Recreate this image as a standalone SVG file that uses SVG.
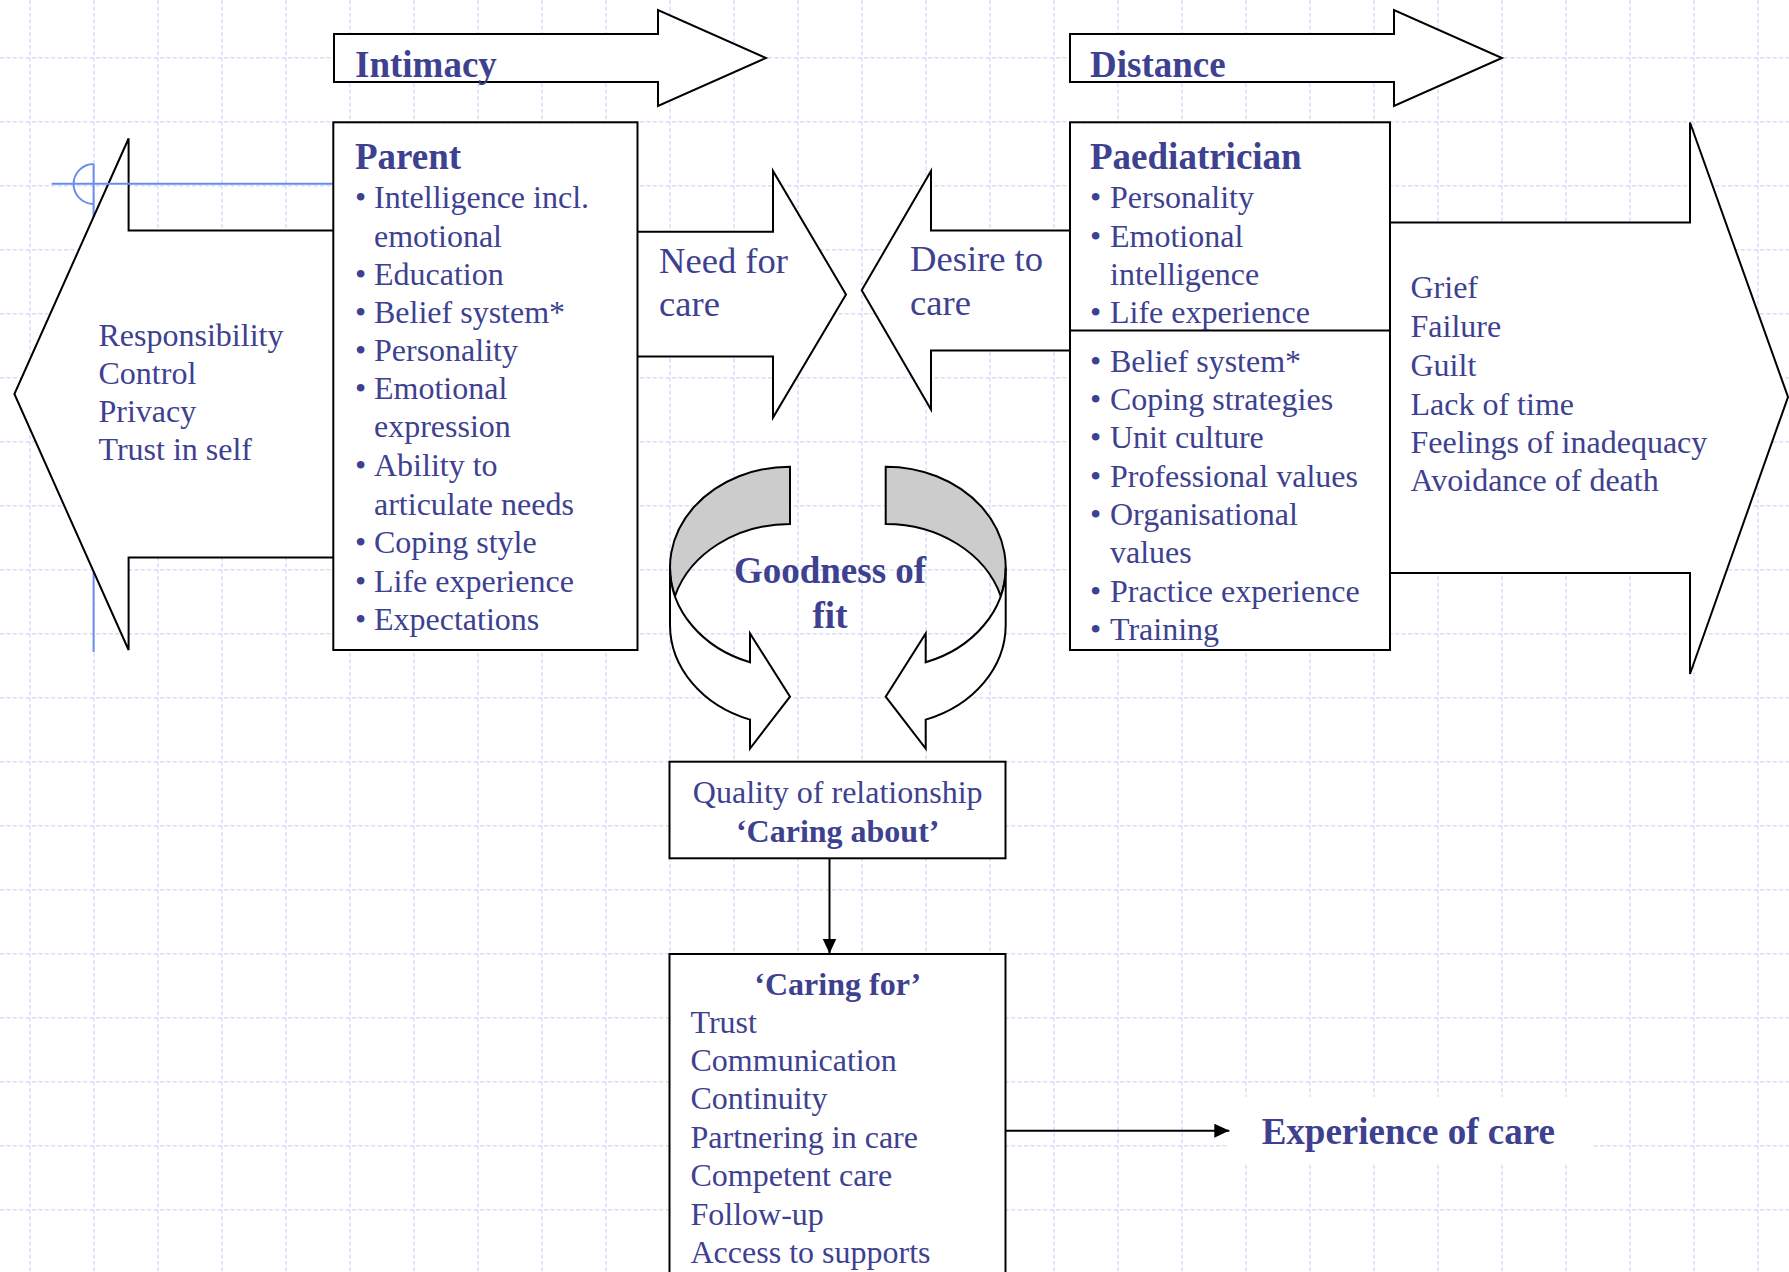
<svg xmlns="http://www.w3.org/2000/svg" width="1789" height="1272" viewBox="0 0 1789 1272">
<defs>
<style>
.grid line{stroke:#d5ddf9;stroke-width:1.5;stroke-dasharray:4 2.4}
.shape{fill:#ffffff;stroke:#000000;stroke-width:2;stroke-linejoin:miter}
.back{fill:#cccccc;stroke:#000000;stroke-width:2}
.t{font-family:"Liberation Serif","Times New Roman",serif;font-size:32px;fill:#3d418f}
.h{font-family:"Liberation Serif","Times New Roman",serif;font-size:37px;font-weight:bold;fill:#3d418f}
.b{font-family:"Liberation Serif","Times New Roman",serif;font-size:32px;font-weight:bold;fill:#3d418f}
.m{font-family:"Liberation Serif","Times New Roman",serif;font-size:36.6px;fill:#3d418f}
.blue{stroke:#6a8cf0;stroke-width:2;fill:none}
.conn{stroke:#000000;stroke-width:2;fill:none}
</style>
<marker id="ah" markerUnits="userSpaceOnUse" markerWidth="15" markerHeight="14" refX="15" refY="7" orient="auto">
<path d="M0,0 L15,7 L0,14 Z" fill="#000000"/>
</marker>
</defs>
<rect width="1789" height="1272" fill="#ffffff"/>
<g class="grid">
<line x1="30" y1="0" x2="30" y2="1272"/><line x1="94" y1="0" x2="94" y2="1272"/><line x1="158" y1="0" x2="158" y2="1272"/><line x1="222" y1="0" x2="222" y2="1272"/><line x1="286" y1="0" x2="286" y2="1272"/><line x1="350" y1="0" x2="350" y2="1272"/><line x1="414" y1="0" x2="414" y2="1272"/><line x1="478" y1="0" x2="478" y2="1272"/><line x1="542" y1="0" x2="542" y2="1272"/><line x1="606" y1="0" x2="606" y2="1272"/><line x1="670" y1="0" x2="670" y2="1272"/><line x1="734" y1="0" x2="734" y2="1272"/><line x1="798" y1="0" x2="798" y2="1272"/><line x1="862" y1="0" x2="862" y2="1272"/><line x1="926" y1="0" x2="926" y2="1272"/><line x1="990" y1="0" x2="990" y2="1272"/><line x1="1054" y1="0" x2="1054" y2="1272"/><line x1="1118" y1="0" x2="1118" y2="1272"/><line x1="1182" y1="0" x2="1182" y2="1272"/><line x1="1246" y1="0" x2="1246" y2="1272"/><line x1="1310" y1="0" x2="1310" y2="1272"/><line x1="1374" y1="0" x2="1374" y2="1272"/><line x1="1438" y1="0" x2="1438" y2="1272"/><line x1="1502" y1="0" x2="1502" y2="1272"/><line x1="1566" y1="0" x2="1566" y2="1272"/><line x1="1630" y1="0" x2="1630" y2="1272"/><line x1="1694" y1="0" x2="1694" y2="1272"/><line x1="1758" y1="0" x2="1758" y2="1272"/>
<line x1="0" y1="57.7" x2="1789" y2="57.7"/><line x1="0" y1="121.7" x2="1789" y2="121.7"/><line x1="0" y1="185.7" x2="1789" y2="185.7"/><line x1="0" y1="249.7" x2="1789" y2="249.7"/><line x1="0" y1="313.7" x2="1789" y2="313.7"/><line x1="0" y1="377.7" x2="1789" y2="377.7"/><line x1="0" y1="441.7" x2="1789" y2="441.7"/><line x1="0" y1="505.7" x2="1789" y2="505.7"/><line x1="0" y1="569.7" x2="1789" y2="569.7"/><line x1="0" y1="633.7" x2="1789" y2="633.7"/><line x1="0" y1="697.7" x2="1789" y2="697.7"/><line x1="0" y1="761.7" x2="1789" y2="761.7"/><line x1="0" y1="825.7" x2="1789" y2="825.7"/><line x1="0" y1="889.7" x2="1789" y2="889.7"/><line x1="0" y1="953.7" x2="1789" y2="953.7"/><line x1="0" y1="1017.7" x2="1789" y2="1017.7"/><line x1="0" y1="1081.7" x2="1789" y2="1081.7"/><line x1="0" y1="1145.7" x2="1789" y2="1145.7"/><line x1="0" y1="1209.7" x2="1789" y2="1209.7"/>
</g>
<g id="crosshair-back">
<line class="blue" x1="93.6" y1="164" x2="93.6" y2="652"/>
<path class="blue" d="M93.6,164 A20,20 0 0 0 93.6,204"/>
</g>
<g id="node-left-arrow">
<polygon class="shape" points="345,230.5 128.6,230.5 128.6,138.5 14.4,394 128.6,650 128.6,557.5 345,557.5"/>
<text class="t" x="98.5" y="346">Responsibility</text>
<text class="t" x="98.5" y="384">Control</text>
<text class="t" x="98.5" y="422">Privacy</text>
<text class="t" x="98.5" y="460">Trust in self</text>
</g>
<g id="crosshair-front">
<line class="blue" x1="51.7" y1="183.7" x2="333.3" y2="183.7"/>
</g>
<g id="node-right-arrow">
<polygon class="shape" points="1380,222.4 1690,222.4 1690,122.5 1788,397 1690,674 1690,573 1380,573"/>
<text class="t" x="1410.5" y="298">Grief</text>
<text class="t" x="1410.5" y="337">Failure</text>
<text class="t" x="1410.5" y="376">Guilt</text>
<text class="t" x="1410.5" y="414.5">Lack of time</text>
<text class="t" x="1410.5" y="452.5">Feelings of inadequacy</text>
<text class="t" x="1410.5" y="490.5">Avoidance of death</text>
</g>
<g id="node-need">
<polygon class="shape" points="628,231.7 773,231.7 773,171 846,294.5 773,417.5 773,356.5 628,356.5"/>
<text class="m" x="659" y="273.3">Need for</text>
<text class="m" x="659" y="315.7">care</text>
</g>
<g id="node-desire">
<polygon class="shape" points="1080,230.5 931,230.5 931,171 861.7,290.2 931,409.6 931,350.6 1080,350.6"/>
<text class="m" x="910" y="271">Desire to</text>
<text class="m" x="910" y="315">care</text>
</g>
<g id="node-intimacy">
<polygon class="shape" points="334,34 658,34 658,10 766,58 658,106 658,82 334,82"/>
<text class="h" x="355" y="77">Intimacy</text>
</g>
<g id="node-distance">
<polygon class="shape" points="1070,34 1394,34 1394,10 1502,58 1394,106 1394,82 1070,82"/>
<text class="h" x="1090" y="77">Distance</text>
</g>
<g id="node-parent">
<rect class="shape" x="333.3" y="122.3" width="304.2" height="527.7"/>
<text class="h" x="355" y="169">Parent</text>
<text class="t" x="355" y="207.7">•</text><text class="t" x="374" y="207.7">Intelligence incl.</text>
<text class="t" x="374" y="246.5">emotional</text>
<text class="t" x="355" y="284.5">•</text><text class="t" x="374" y="284.5">Education</text>
<text class="t" x="355" y="322.5">•</text><text class="t" x="374" y="322.5">Belief system*</text>
<text class="t" x="355" y="361">•</text><text class="t" x="374" y="361">Personality</text>
<text class="t" x="355" y="399">•</text><text class="t" x="374" y="399">Emotional</text>
<text class="t" x="374" y="437">expression</text>
<text class="t" x="355" y="476">•</text><text class="t" x="374" y="476">Ability to</text>
<text class="t" x="374" y="514.5">articulate needs</text>
<text class="t" x="355" y="552.5">•</text><text class="t" x="374" y="552.5">Coping style</text>
<text class="t" x="355" y="592">•</text><text class="t" x="374" y="592">Life experience</text>
<text class="t" x="355" y="630">•</text><text class="t" x="374" y="630">Expectations</text>
</g>
<g id="node-paediatrician">
<rect class="shape" x="1070" y="122.3" width="320" height="527.7"/>
<line class="conn" x1="1070" y1="330.5" x2="1390" y2="330.5"/>
<text class="h" x="1090" y="169">Paediatrician</text>
<text class="t" x="1090" y="207.7">•</text><text class="t" x="1110" y="207.7">Personality</text>
<text class="t" x="1090" y="246.5">•</text><text class="t" x="1110" y="246.5">Emotional</text>
<text class="t" x="1110" y="284.5">intelligence</text>
<text class="t" x="1090" y="322.5">•</text><text class="t" x="1110" y="322.5">Life experience</text>
<text class="t" x="1090" y="371.6">•</text><text class="t" x="1110" y="371.6">Belief system*</text>
<text class="t" x="1090" y="410">•</text><text class="t" x="1110" y="410">Coping strategies</text>
<text class="t" x="1090" y="448">•</text><text class="t" x="1110" y="448">Unit culture</text>
<text class="t" x="1090" y="486.8">•</text><text class="t" x="1110" y="486.8">Professional values</text>
<text class="t" x="1090" y="524.8">•</text><text class="t" x="1110" y="524.8">Organisational</text>
<text class="t" x="1110" y="562.8">values</text>
<text class="t" x="1090" y="602">•</text><text class="t" x="1110" y="602">Practice experience</text>
<text class="t" x="1090" y="640">•</text><text class="t" x="1110" y="640">Training</text>
</g>
<g id="node-curved-left">
<path class="back" d="M790,524 A120,100.7 0 0 0 674.96,596.05 A120,100.7 0 0 1 790,466.7 Z"/>
<path class="shape" d="M670,567.4 A120,100.7 0 0 0 750,662.3 L750,633.5 L790,696.7 L750,748.5 L750,719.6 A120,100.7 0 0 1 670,624.7 Z"/>
</g>
<g id="node-curved-right">
<path class="back" d="M885.7,524 A120,100.7 0 0 1 1000.74,596.05 A120,100.7 0 0 0 885.7,466.7 Z"/>
<path class="shape" d="M1005.7,567.4 A120,100.7 0 0 1 925.7,662.3 L925.7,633.5 L885.7,696.7 L925.7,748.5 L925.7,719.6 A120,100.7 0 0 0 1005.7,624.7 Z"/>
</g>
<g id="node-goodness">
<text class="h" x="830" y="583.3" text-anchor="middle">Goodness of</text>
<text class="h" x="830" y="628.3" text-anchor="middle">fit</text>
</g>
<g id="node-quality">
<rect class="shape" x="669.5" y="761.7" width="336" height="96.6"/>
<text class="t" x="837.7" y="803.3" text-anchor="middle">Quality of relationship</text>
<text class="b" x="837.7" y="841.7" text-anchor="middle">‘Caring about’</text>
</g>
<g id="node-caring-for">
<rect class="shape" x="669.5" y="954" width="336" height="340"/>
<text class="b" x="837.7" y="995" text-anchor="middle">‘Caring for’</text>
<text class="t" x="690.5" y="1032.7">Trust</text>
<text class="t" x="690.5" y="1071">Communication</text>
<text class="t" x="690.5" y="1109.3">Continuity</text>
<text class="t" x="690.5" y="1147.7">Partnering in care</text>
<text class="t" x="690.5" y="1186.3">Competent care</text>
<text class="t" x="690.5" y="1224.7">Follow-up</text>
<text class="t" x="690.5" y="1263">Access to supports</text>
</g>
<g id="node-experience">
<rect x="1228" y="1097" width="364" height="66" fill="#ffffff"/>
<text class="h" x="1261.7" y="1144">Experience of care</text>
</g>
<g id="connectors">
<line class="conn" x1="829.5" y1="858.3" x2="829.5" y2="953.5" marker-end="url(#ah)"/>
<line class="conn" x1="1005.5" y1="1130.7" x2="1229.3" y2="1130.7" marker-end="url(#ah)"/>
</g>
</svg>
